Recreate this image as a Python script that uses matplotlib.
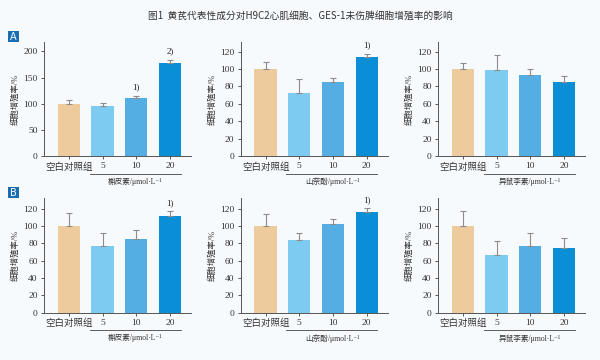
import matplotlib
matplotlib.use("Agg")
import matplotlib.pyplot as plt
from matplotlib.patches import Rectangle
import matplotlib.transforms as mtransforms

plt.rcParams['font.family'] = ['Liberation Serif', 'Noto Sans CJK SC', 'DejaVu Sans']

title = "图1  黄芪代表性成分对H9C2心肌细胞、GES-1未伤脾细胞增殖率的影响"
categories = ["空白对照组", "5", "10", "20"]
compounds = ["槲皮素", "山奈酚", "异鼠李素"]
unit = "/μmol·L⁻¹"
ylabel = "细胞增殖率/%"

# Row A: H9C2
A_vals = [[99, 96, 110.5, 177], [100.5, 72, 85, 113.5], [99.5, 99, 93.5, 84.5]]
A_err = [[9, 6, 5, 7.5], [7, 16, 5, 4], [7, 16.5, 6.5, 8]]
A_marks = [["", "", "1)", "2)"], ["", "", "", "1)"], ["", "", "", ""]]
A_ylim = [218, 131, 131]
A_ticks = [[0, 50, 100, 150, 200], [0, 20, 40, 60, 80, 100, 120], [0, 20, 40, 60, 80, 100, 120]]

# Row B: GES-1
B_vals = [[100, 77.5, 85.5, 112], [100, 83.5, 102.5, 116], [100, 66.5, 76.5, 74.5]]
B_err = [[14.5, 14.5, 10.5, 5], [14, 9, 6, 4.5], [17, 16, 15, 11.5]]
B_marks = [["", "", "", "1)"], ["", "", "", "1)"], ["", "", "", ""]]
B_ylim = [132, 132, 132]
B_ticks = [[0, 20, 40, 60, 80, 100, 120]] * 3

colors = ["#EDCB9C", "#7DCBF1", "#55AEE3", "#0A8ED5"]

W, H = 600, 360
fig = plt.figure(figsize=(6, 3.6), dpi=100, facecolor="#f7fafd")

fig.text(0.5, 1 - 16 / H, title, ha="center", va="center", fontsize=7,
         color="#333333", family=['Noto Sans CJK SC', 'DejaVu Sans'])

def panel_label(ch, x, y):
    fig.patches.append(Rectangle((x / W, 1 - (y + 11) / H), 11 / W, 11 / H,
                                 transform=fig.transFigure, facecolor="#1a6db3",
                                 edgecolor="none"))
    fig.text((x + 5.5) / W, 1 - (y + 5.5) / H, ch, ha="center", va="center",
             color="white", fontsize=7, family=['DejaVu Sans'])

panel_label("A", 8, 31)
panel_label("B", 8, 187)

lefts = [44, 240.7, 438]
width = 147

def draw(ax, vals, errs, marks, ylim, ticks, compound):
    x = list(range(len(categories)))
    ax.set_facecolor("none")
    ax.bar(x, vals, width=0.66, color=colors, edgecolor="none", zorder=2)
    ax.errorbar(x, vals, yerr=[[0] * len(vals), errs], fmt="none",
                ecolor="#8c8c8c", elinewidth=0.8, capsize=2.2, capthick=0.8, zorder=3)
    for xi, v, e, m in zip(x, vals, errs, marks):
        if m:
            ax.text(xi, v + e + ylim * 0.04, m, ha="center", va="bottom",
                    fontsize=6.5, color="#222222")
    ax.set_xlim(-0.735, 3.62)
    ax.set_ylim(0, ylim)
    ax.set_yticks(ticks)
    ax.set_xticks(x)
    ax.set_xticklabels(categories)
    for lbl in ax.get_xticklabels()[:1]:
        lbl.set_fontweight("light")
        lbl.set_fontsize(6.3)
    for s in ["top", "right"]:
        ax.spines[s].set_visible(False)
    for s in ["left", "bottom"]:
        ax.spines[s].set_color("#555555")
        ax.spines[s].set_linewidth(0.7)
    ax.tick_params(axis="both", labelsize=6.8, colors="#555555", labelcolor="#333333",
                   width=0.7, length=2.5, direction="out", pad=2)
    ax.set_ylabel(ylabel, fontsize=6, color="#333333", labelpad=3, fontweight="light")
    trans = mtransforms.blended_transform_factory(ax.transData, ax.transAxes)
    ax.plot([0.62, 3.31], [-0.155, -0.155], transform=trans, color="#444444",
            lw=0.6, clip_on=False)
    ax.text(1.97, -0.225, compound + unit, transform=trans, ha="center", va="center",
            fontsize=5.5, color="#333333")

for i in range(3):
    axA = fig.add_axes([lefts[i] / W, 1 - 156 / H, width / W, 114 / H])
    draw(axA, A_vals[i], A_err[i], A_marks[i], A_ylim[i], A_ticks[i], compounds[i])
    axB = fig.add_axes([lefts[i] / W, 1 - 312.7 / H, width / W, 114.4 / H])
    draw(axB, B_vals[i], B_err[i], B_marks[i], B_ylim[i], B_ticks[i], compounds[i])

fig.savefig("out.png", dpi=100, facecolor=fig.get_facecolor())
